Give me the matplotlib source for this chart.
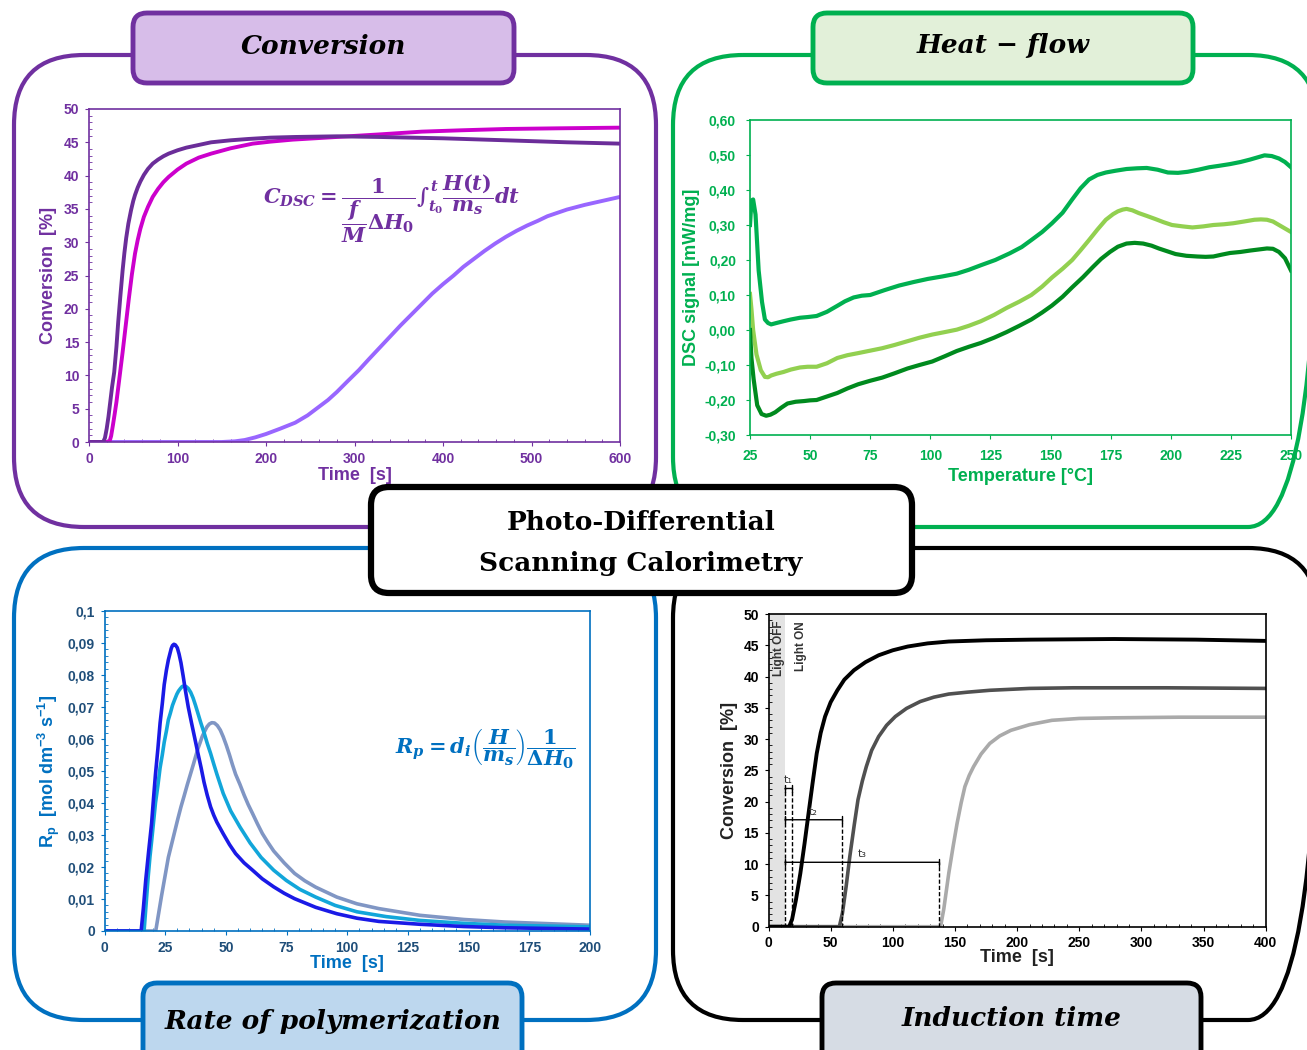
import numpy as np
import matplotlib
matplotlib.use('Agg')
import matplotlib.pyplot as plt
from matplotlib.patches import FancyBboxPatch
from matplotlib.ticker import AutoMinorLocator, FixedLocator

plt.rcParams['font.family'] = ['Liberation Sans', 'DejaVu Sans']
plt.rcParams['mathtext.fontset'] = 'custom'
plt.rcParams['mathtext.it'] = 'DejaVu Serif:italic:bold'
plt.rcParams['mathtext.rm'] = 'DejaVu Serif:bold'
plt.rcParams['mathtext.bf'] = 'DejaVu Serif:bold'
plt.rcParams['mathtext.sf'] = 'Liberation Sans:bold'

# ---- data: conversion (top left) ----
conv_t1 = [0, 16, 18, 20, 22, 24, 26, 28.5, 31, 33, 35.5, 38, 40, 42, 44.5, 47.5, 50, 52, 55, 58, 62, 66.6,
           72, 78, 84, 90, 100, 110, 124, 138, 160, 180, 205, 233, 280, 328, 400, 471, 540, 600]
conv_y1 = [0, 0, 0.6, 2, 3.8, 6, 8.2, 10.5, 14.3, 18, 22, 25.8, 28.4, 30.6, 32.8, 34.8, 36.2, 37.1, 38.2,
           39.1, 40.1, 41, 41.8, 42.4, 42.9, 43.3, 43.8, 44.2, 44.6, 45, 45.3, 45.5, 45.7, 45.8, 45.9, 45.8,
           45.6, 45.3, 45.0, 44.8]
conv_t2 = [0, 23, 25, 27, 29, 31, 34, 38, 41.5, 45, 48.5, 52, 55, 58, 62, 66.6, 72, 78, 84, 90, 100, 110,
           124, 138, 160, 185, 205, 230, 280, 330, 376, 420, 471, 530, 600]
conv_y2 = [0, 0, 0.9, 2.5, 4.2, 6, 9.2, 13.5, 17.5, 21.5, 25.2, 28.3, 30.3, 32, 33.8, 35.3, 36.8, 38, 39,
           39.8, 40.9, 41.8, 42.7, 43.3, 44.1, 44.8, 45.1, 45.4, 45.8, 46.2, 46.6, 46.8, 47, 47.1, 47.2]
conv_t3 = [0, 150, 165, 176, 188, 200, 216, 233, 247, 260, 270, 280, 292, 305, 316, 328, 340, 352, 364,
           376, 388, 400, 412, 423, 435, 447, 459, 471, 483, 495, 507, 518, 540, 560, 580, 600]
conv_y3 = [0, 0, 0.1, 0.3, 0.7, 1.2, 2.0, 2.9, 4.0, 5.3, 6.3, 7.5, 9.1, 10.8, 12.4, 14.1, 15.8, 17.5, 19.1,
           20.7, 22.3, 23.7, 25.0, 26.3, 27.5, 28.7, 29.8, 30.8, 31.7, 32.5, 33.2, 33.9, 34.9, 35.6, 36.2, 36.8]

# ---- data: heat flow (top right) ----
hf_T1 = [25, 25.6, 26.3, 27.3, 28.6, 30, 31.2, 32.5, 33.8, 36, 38.9, 42, 45.8, 49, 52.7, 57, 61.3, 64.5,
         68.1, 71.5, 75, 81, 87, 93, 99, 105, 111, 116, 121, 127, 133, 138, 142, 146.5, 150.6, 155, 159,
         162.5, 166, 169.5, 173, 177, 181.6, 186, 190, 194.5, 198.8, 203, 207, 211.5, 216, 220, 224.6,
         229, 233, 236, 239, 242, 245, 247.5, 250]
hf_y1 = [0.30, 0.37, 0.373, 0.33, 0.17, 0.08, 0.03, 0.02, 0.016, 0.02, 0.025, 0.03, 0.035, 0.037, 0.04,
         0.052, 0.069, 0.082, 0.093, 0.098, 0.10, 0.114, 0.127, 0.137, 0.146, 0.153, 0.161, 0.172, 0.185,
         0.20, 0.219, 0.237, 0.257, 0.28, 0.305, 0.335, 0.373, 0.405, 0.43, 0.443, 0.45, 0.455, 0.46, 0.462,
         0.463, 0.458, 0.45, 0.449, 0.452, 0.458, 0.465, 0.469, 0.474, 0.48, 0.487, 0.493, 0.499, 0.497,
         0.49, 0.48, 0.465]
hf_T2 = [25, 25.6, 26.3, 27.7, 29.5, 31.2, 32.5, 33.8, 36, 38.9, 42, 45.8, 49, 52.7, 57, 61.3, 65.5, 70,
         75, 80, 85, 90.5, 95.5, 100.8, 106, 111, 116, 121, 126.5, 131.7, 137, 142, 146.5, 150.6, 155, 159,
         162.5, 166, 169.5, 173, 176, 178, 180, 181.6, 184, 186.7, 190, 193.6, 197, 200.5, 205, 209, 213.5,
         217.7, 222, 226, 230.5, 234.8, 237.5, 240, 242.5, 245, 247.5, 250]
hf_y2 = [0.103, 0.06, 0.0, -0.07, -0.115, -0.134, -0.135, -0.13, -0.125, -0.12, -0.113, -0.107, -0.105,
         -0.105, -0.095, -0.08, -0.072, -0.066, -0.059, -0.052, -0.043, -0.032, -0.022, -0.013, -0.006,
         0.001, 0.012, 0.025, 0.043, 0.063, 0.081, 0.10, 0.124, 0.15, 0.175, 0.20, 0.228, 0.257, 0.287,
         0.315, 0.331, 0.339, 0.344, 0.346, 0.342, 0.334, 0.326, 0.317, 0.308, 0.30, 0.296, 0.293, 0.296,
         0.30, 0.302, 0.305, 0.31, 0.315, 0.316, 0.315, 0.31, 0.30, 0.29, 0.28]
hf_T3 = [25, 25.6, 26.5, 28, 29.8, 31.7, 33.5, 35.5, 38, 40.6, 44, 47.5, 50, 52.7, 57, 61.3, 65.5, 70, 75,
         80, 85, 90.5, 95.5, 100.8, 106, 111, 116, 121, 126.5, 131.7, 137, 142, 146.5, 150.6, 155, 159,
         163.5, 167.6, 171, 174.7, 178, 181.6, 185, 188.5, 192, 195, 198.5, 202, 206.5, 211, 214.5, 217.7,
         221, 224.6, 229, 233, 236.5, 240, 242.5, 245, 247.5, 250]
hf_y3 = [0.0, -0.08, -0.14, -0.215, -0.24, -0.245, -0.242, -0.235, -0.222, -0.21, -0.205, -0.203, -0.201,
         -0.20, -0.19, -0.18, -0.167, -0.155, -0.145, -0.136, -0.124, -0.11, -0.1, -0.09, -0.075, -0.06,
         -0.048, -0.037, -0.022, -0.006, 0.012, 0.03, 0.05, 0.07, 0.095, 0.122, 0.151, 0.18, 0.203, 0.223,
         0.238, 0.247, 0.249, 0.247, 0.241, 0.233, 0.225, 0.217, 0.212, 0.21, 0.209, 0.21, 0.215, 0.22,
         0.223, 0.227, 0.23, 0.233, 0.232, 0.223, 0.205, 0.17]

# ---- data: rate of polymerization (bottom left) ----
rp_t1 = [0, 15.1, 16, 17, 18.2, 19.4, 20.2, 21, 22, 22.9, 23.8, 24.6, 25.5, 26.3, 27, 27.5, 28, 28.6, 29.2,
         30, 30.7, 31.5, 32.4, 33.3, 34.5, 35.8, 37.2, 38.5, 39.8, 41, 42.3, 43.7, 45, 46.3, 48.9, 51.5, 54,
         57.5, 61, 65, 69.7, 74, 78.3, 87, 95.7, 104, 113, 130, 148, 165, 200]
rp_y1 = [0, 0, 0.007, 0.016, 0.025, 0.0336, 0.0415, 0.049, 0.057, 0.065, 0.071, 0.077, 0.0815, 0.0847,
         0.0868, 0.0883, 0.0892, 0.0896, 0.0894, 0.0885, 0.0866, 0.0838, 0.0797, 0.0753, 0.07, 0.0652,
         0.0602, 0.0555, 0.051, 0.0465, 0.0425, 0.0388, 0.0362, 0.034, 0.0304, 0.027, 0.0242, 0.0213,
         0.019, 0.0163, 0.0138, 0.0118, 0.0101, 0.0074, 0.0054, 0.004, 0.003, 0.0021, 0.0014, 0.001, 0.0006]
rp_t2 = [0, 16.3, 17.2, 18, 18.7, 19.4, 20.2, 21, 22, 22.9, 23.8, 24.6, 25.5, 26.3, 27.1, 28, 28.9, 29.8,
         30.5, 31.3, 32, 32.8, 33.6, 34.5, 35.5, 36.5, 37.5, 38.5, 39.7, 41, 42.3, 43.7, 45, 46.3, 47.6,
         48.9, 52, 55.8, 60, 64.5, 69.7, 74.9, 80.5, 87, 95, 104, 116, 130, 148, 165, 200]
rp_y2 = [0, 0, 0.009, 0.017, 0.023, 0.028, 0.034, 0.04, 0.0455, 0.051, 0.055, 0.059, 0.0625, 0.066, 0.068,
         0.0705, 0.0723, 0.074, 0.075, 0.0758, 0.0764, 0.0766, 0.0764, 0.0758, 0.0746, 0.0728, 0.0705,
         0.068, 0.065, 0.062, 0.0587, 0.0555, 0.0522, 0.049, 0.046, 0.043, 0.0375, 0.0325, 0.0275, 0.023,
         0.019, 0.0158, 0.013, 0.0106, 0.008, 0.006, 0.0045, 0.0033, 0.0024, 0.0018, 0.0013]
rp_t3 = [0, 21.1, 22.3, 23.5, 24.9, 26.3, 27.6, 28.9, 30.2, 31.5, 32.8, 34.1, 35.4, 36.7, 37.6, 38.5,
         39.4, 40.2, 41.2, 42.2, 43.2, 44.2, 45.3, 46.5, 47.7, 48.9, 50.2, 51.5, 52.7, 54, 55.8, 57.5, 59.2,
         61, 63, 65, 67.3, 69.7, 74, 78.3, 82.5, 87, 95.7, 104, 113, 130, 148, 165, 200]
rp_y3 = [0, 0, 0.0055, 0.011, 0.017, 0.023, 0.027, 0.031, 0.035, 0.0388, 0.0422, 0.0457, 0.049, 0.0523,
         0.0547, 0.057, 0.0589, 0.0607, 0.0623, 0.0638, 0.0647, 0.0651, 0.065, 0.0642, 0.0628, 0.0607,
         0.058, 0.055, 0.052, 0.049, 0.0458, 0.0425, 0.0395, 0.0367, 0.0335, 0.0305, 0.0277, 0.025, 0.0213,
         0.018, 0.0157, 0.0137, 0.0106, 0.0085, 0.007, 0.0049, 0.0036, 0.0028, 0.0018]

# ---- data: induction time (bottom right) ----
it_t1 = [0, 16.6, 19, 22, 25.6, 29, 32.2, 35.5, 38.8, 42, 45.5, 50, 55.4, 61, 68.7, 78, 88.6, 100, 112,
         128, 145, 175, 211, 278, 344, 400]
it_y1 = [0, 0, 1.2, 4.2, 8.5, 13.3, 18.1, 23, 27.7, 31, 33.6, 35.9, 37.8, 39.5, 41, 42.3, 43.4, 44.2, 44.8,
         45.3, 45.6, 45.8, 45.9, 46, 45.9, 45.7]
it_t2 = [0, 57, 59.5, 62.5, 65.4, 69, 72, 75.5, 78.7, 83, 88.6, 95, 102, 111, 122, 133, 145, 160, 178,
         210, 245, 320, 400]
it_y2 = [0, 0, 2.2, 6.5, 11.2, 16.3, 20.3, 23.3, 25.6, 28.2, 30.4, 32.2, 33.6, 34.9, 36, 36.7, 37.2, 37.5,
         37.8, 38.1, 38.2, 38.2, 38.1]
it_t3 = [0, 138.4, 141, 145, 148.5, 151.7, 155, 158, 161.5, 165, 171, 178, 186, 195, 210, 228, 250, 278,
         330, 400]
it_y3 = [0, 0, 2.8, 8.5, 12.8, 16.5, 19.8, 22.4, 24.2, 25.6, 27.6, 29.3, 30.5, 31.4, 32.3, 33, 33.3, 33.4,
         33.5, 33.5]
light_off_end = 13.3
ind_start = [13.3, 13.3, 13.3]
ind_end = [18.9, 58.8, 137.0]
ind_level = [22.1, 17.1, 10.3]
ind_names = ['t\u2081', 't\u2082', 't\u2083']

conv_yticks = list(range(0, 51, 5))
conv_xticks = list(range(0, 601, 100))
hf_yticks = [-0.3, -0.2, -0.1, 0.0, 0.1, 0.2, 0.3, 0.4, 0.5, 0.6]
hf_ylabels = ['-0,30', '-0,20', '-0,10', '0,00', '0,10', '0,20', '0,30', '0,40', '0,50', '0,60']
hf_xticks = list(range(25, 251, 25))
rp_yticks = [0, 0.01, 0.02, 0.03, 0.04, 0.05, 0.06, 0.07, 0.08, 0.09, 0.1]
rp_ylabels = ['0', '0,01', '0,02', '0,03', '0,04', '0,05', '0,06', '0,07', '0,08', '0,09', '0,1']
rp_xticks = list(range(0, 201, 25))
it_yticks = list(range(0, 51, 5))
it_xticks = list(range(0, 401, 50))

# ---- colours ----
PURPLE = '#7030A0'
GREEN = '#00B050'
BLUE = '#0070C0'
NAVY = '#1F4E79'

W, H = 1307, 1050
fig = plt.figure(figsize=(W / 100, H / 100), dpi=100)
fig.patch.set_facecolor('white')

bg = fig.add_axes([0, 0, 1, 1])
bg.set_xlim(0, W)
bg.set_ylim(H, 0)
bg.axis('off')


def rbox(x0, y0, x1, y1, ec, fc='none', lw=3.0, r=70, z=1):
    bg.add_patch(FancyBboxPatch((x0, y0), x1 - x0, y1 - y0,
                                boxstyle='round,pad=0,rounding_size=%d' % r,
                                ec=ec, fc=fc, lw=lw, zorder=z))


def title_box(x0, y0, x1, y1, ec, fc, txt, ty):
    rbox(x0, y0, x1, y1, ec, fc, lw=3.5, r=14, z=3)
    bg.text((x0 + x1) / 2, ty, txt, ha='center', va='center', fontsize=19,
            family='DejaVu Serif', weight='bold', style='italic', zorder=4)


# panel frames
rbox(14, 55, 656, 527, PURPLE)
rbox(673, 55, 1318, 527, GREEN)
rbox(14, 548, 656, 1020, BLUE)
rbox(673, 548, 1318, 1020, 'black')

title_box(133, 13, 514, 83, PURPLE, '#D7BDE9', 'Conversion', 46)
title_box(813, 13, 1193, 83, GREEN, '#E2F0D9', 'Heat \u2212 flow', 45)
title_box(143, 983, 522, 1070, BLUE, '#BDD7EE', 'Rate of polymerization', 1022)
title_box(822, 983, 1201, 1070, 'black', '#D6DCE4', 'Induction time', 1018)

# centre title
rbox(371, 487, 912, 593, 'black', 'white', lw=4.5, r=18, z=5)
bg.text(641, 522, 'Photo-Differential', ha='center', va='center', fontsize=19,
        family='DejaVu Serif', weight='bold', zorder=6)
bg.text(641, 563, 'Scanning Calorimetry', ha='center', va='center', fontsize=19,
        family='DejaVu Serif', weight='bold', zorder=6)


def px_axes(x0, y0, x1, y1):
    return fig.add_axes([x0 / W, 1 - y1 / H, (x1 - x0) / W, (y1 - y0) / H])


def style(ax, spine_c, tick_c, label_c, xlabel, ylabel, xpad=0, ypad=6, tpad=4):
    for s in ax.spines.values():
        s.set_color(spine_c)
        s.set_linewidth(1.2)
    ax.tick_params(which='major', direction='out', length=3, colors=spine_c,
                   labelcolor=tick_c, labelsize=10, pad=tpad)
    ax.tick_params(which='minor', direction='in', length=2, colors=spine_c)
    ax.yaxis.set_minor_locator(AutoMinorLocator(5))
    for lab in ax.get_xticklabels() + ax.get_yticklabels():
        lab.set_fontweight('bold')
    ax.set_xlabel(xlabel, color=label_c, fontsize=13, fontweight='bold', labelpad=xpad)
    ax.set_ylabel(ylabel, color=label_c, fontsize=13, fontweight='bold', labelpad=ypad)


# ---- conversion ----
ax1 = px_axes(89, 109, 620, 442)
ax1.plot(conv_t3, conv_y3, color='#9966FF', lw=2.8)
ax1.plot(conv_t2, conv_y2, color='#CC00CC', lw=2.8)
ax1.plot(conv_t1, conv_y1, color='#6B2D99', lw=2.8)
ax1.set_xlim(0, 600)
ax1.set_ylim(0, 50)
ax1.set_xticks(conv_xticks)
ax1.set_yticks(conv_yticks)
style(ax1, PURPLE, PURPLE, PURPLE, 'Time  [s]', 'Conversion  [%]', xpad=1, ypad=5)
ax1.xaxis.set_minor_locator(AutoMinorLocator(5))
ax1.text(0.57, 0.70,
         r'$C_{DSC} = \dfrac{1}{\dfrac{f}{M}\Delta H_0}\int_{t_0}^{t}\dfrac{H(t)}{m_s}dt$',
         transform=ax1.transAxes, ha='center', va='center', fontsize=15, color=PURPLE)

# ---- heat flow ----
ax2 = px_axes(750, 120, 1291, 435)
ax2.plot(hf_T1, hf_y1, color='#00B050', lw=3)
ax2.plot(hf_T2, hf_y2, color='#92D050', lw=3)
ax2.plot(hf_T3, hf_y3, color='#008A1E', lw=3)
ax2.set_xlim(25, 250)
ax2.set_ylim(-0.3, 0.6)
ax2.set_xticks(hf_xticks)
ax2.yaxis.set_major_locator(FixedLocator(hf_yticks))
ax2.set_yticklabels(hf_ylabels)
style(ax2, GREEN, GREEN, GREEN, 'Temperature [°C]', 'DSC signal [mW/mg]', xpad=4, ypad=3, tpad=7)
ax2.tick_params(which='minor', length=0)

# ---- rate of polymerization ----
ax3 = px_axes(104.5, 611, 590, 931)
ax3.plot(rp_t3, rp_y3, color='#8096C4', lw=2.6)
ax3.plot(rp_t2, rp_y2, color='#12A6DA', lw=2.6)
ax3.plot(rp_t1, rp_y1, color='#1A1AE6', lw=2.6)
ax3.set_xlim(0, 200)
ax3.set_ylim(0, 0.1)
ax3.set_xticks(rp_xticks)
ax3.yaxis.set_major_locator(FixedLocator(rp_yticks))
ax3.set_yticklabels(rp_ylabels)
style(ax3, BLUE, NAVY, BLUE, 'Time  [s]',
      r'$\mathsf{R_p}$  [mol dm$^{\mathsf{-3}}$ s$^{\mathsf{-1}}$]', xpad=0, ypad=4)
ax3.xaxis.set_minor_locator(AutoMinorLocator(5))
ax3.text(0.785, 0.57, r'$R_p = d_i\left(\dfrac{H}{m_s}\right)\dfrac{1}{\Delta H_0}$',
         transform=ax3.transAxes, ha='center', va='center', fontsize=15, color=BLUE)

# ---- induction time ----
ax4 = px_axes(768.5, 614, 1265.7, 926.7)
ax4.axvspan(0, light_off_end, color='#E3E3E3', lw=0, zorder=0)
ax4.plot(it_t3, it_y3, color='#AAAAAA', lw=2.6)
ax4.plot(it_t2, it_y2, color='#505050', lw=2.6)
ax4.plot(it_t1, it_y1, color='black', lw=2.8)
for s0, s1, lv, nm in zip(ind_start, ind_end, ind_level, ind_names):
    ax4.plot([s1, s1], [0, lv], color='black', lw=1, ls=(0, (3, 1.5)))
    ax4.annotate('', xy=(s1, lv), xytext=(s0, lv),
                 arrowprops=dict(arrowstyle='|-|,widthA=0.25,widthB=0.25', color='black', lw=1,
                                 shrinkA=0, shrinkB=0))
    ax4.text((s0 + s1) / 2, lv + 0.5, nm, ha='center', va='bottom', fontsize=8, color='#333333',
             family='DejaVu Sans')
ax4.plot([light_off_end, light_off_end], [0, max(ind_level)], color='black', lw=1, ls=(0, (3, 1.5)))
ax4.text(8.7, 48.9, 'Light OFF', rotation=90, ha='center', va='top', fontsize=8.5, fontweight='bold',
         color='#333333')
ax4.text(26, 48.8, 'Light ON', rotation=90, ha='center', va='top', fontsize=8.5, fontweight='bold',
         color='#333333')
ax4.set_xlim(0, 400)
ax4.set_ylim(0, 50)
ax4.set_xticks(it_xticks)
ax4.set_yticks(it_yticks)
style(ax4, 'black', 'black', '#222222', 'Time  [s]', 'Conversion  [%]', xpad=-1, ypad=4)
ax4.xaxis.set_minor_locator(AutoMinorLocator(5))

fig.savefig('out.png', dpi=100)
